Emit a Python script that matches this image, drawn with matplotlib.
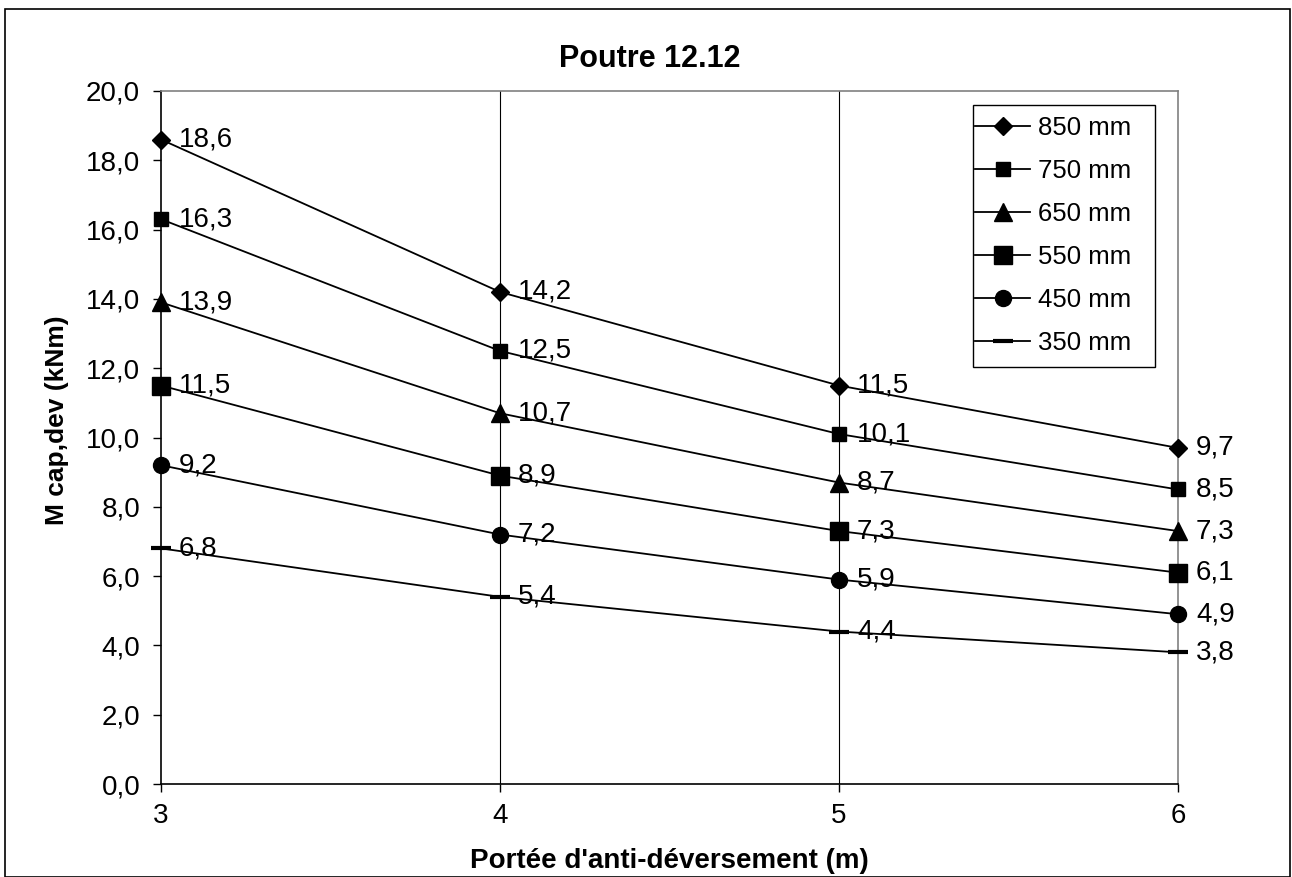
import matplotlib
matplotlib.use("Agg")
import matplotlib.pyplot as plt
from matplotlib.patches import Rectangle

plt.rcParams['font.family'] = ['Liberation Sans', 'DejaVu Sans']

x = [3, 4, 5, 6]
series_names = ["850 mm", "750 mm", "650 mm", "550 mm", "450 mm", "350 mm"]
v850 = [18.6, 14.2, 11.5, 9.7]
v750 = [16.3, 12.5, 10.1, 8.5]
v650 = [13.9, 10.7, 8.7, 7.3]
v550 = [11.5, 8.9, 7.3, 6.1]
v450 = [9.2, 7.2, 5.9, 4.9]
v350 = [6.8, 5.4, 4.4, 3.8]
series = [v850, v750, v650, v550, v450, v350]
markers = ['D', 's', '^', 's', 'o', '_']
msizes = [9, 10.5, 12.5, 13, 11.5, 14]
y_ticks = [0, 2, 4, 6, 8, 10, 12, 14, 16, 18, 20]

W, H = 1292, 877
fig = plt.figure(figsize=(W / 100, H / 100), dpi=100)
fig.patches.append(Rectangle((5 / W, 0.0), 1285 / W, 1 - 9 / H, transform=fig.transFigure,
                             fill=False, edgecolor='black', linewidth=1.2))
ax = fig.add_axes([161 / W, 1 - 784 / H, (1178 - 161) / W, (784 - 91) / H])

for name, vals, m, ms in zip(series_names, series, markers, msizes):
    mew = 3 if m == '_' else 1
    ax.plot(x, vals, color='black', linewidth=1.3, marker=m, markersize=ms,
            markerfacecolor='black', markeredgecolor='black', markeredgewidth=mew,
            label=name, clip_on=False, zorder=3)
    for xi, yi in zip(x, vals):
        ax.annotate(f"{yi:.1f}".replace('.', ','), (xi, yi), xytext=(13, 0),
                    textcoords='offset points', ha='left', va='center', fontsize=20)

ax.set_xlim(3, 6)
ax.set_ylim(0, 20)
ax.set_xticks(x)
ax.set_xticklabels([str(v) for v in x], fontsize=20)
ax.set_yticks(y_ticks)
ax.set_yticklabels([f"{v:.1f}".replace('.', ',') for v in y_ticks], fontsize=20)
ax.tick_params(axis='y', direction='out', length=6, width=1, pad=9)
ax.tick_params(axis='x', direction='out', length=6, width=1, pad=8)
for xv in [4, 5]:
    ax.axvline(xv, color='black', linewidth=0.8, zorder=0)
for s in ['top', 'right']:
    ax.spines[s].set_color('#808080')
    ax.spines[s].set_linewidth(1.2)
for s in ['left', 'bottom']:
    ax.spines[s].set_color('black')
    ax.spines[s].set_linewidth(1.2)

fig.text(650 / W, 1 - 67 / H, "Poutre 12.12", fontsize=22, fontweight='bold',
         ha='center', va='baseline')
fig.text(669 / W, 1 - 868 / H, "Portée d'anti-déversement (m)", fontsize=20, fontweight='bold',
         ha='center', va='baseline')
fig.text(57 / W, 1 - 420 / H, "M cap,dev (kNm)", fontsize=19, fontweight='bold',
         ha='center', va='center', rotation=90)

# legend box drawn as its own frame
fig.patches.append(Rectangle((973 / W, 1 - 367 / H), (1155 - 973) / W, (367 - 105) / H,
                             transform=fig.transFigure, fill=False, edgecolor='black',
                             linewidth=1.0, zorder=5))
leg = ax.legend(loc='upper left', bbox_to_anchor=(975 / W, 1 - 116 / H), bbox_transform=fig.transFigure,
                fontsize=18.5, frameon=False, handlelength=2.15, labelspacing=0.74,
                borderpad=0, borderaxespad=0, handletextpad=0.3)

fig.savefig("out.png", dpi=100)
